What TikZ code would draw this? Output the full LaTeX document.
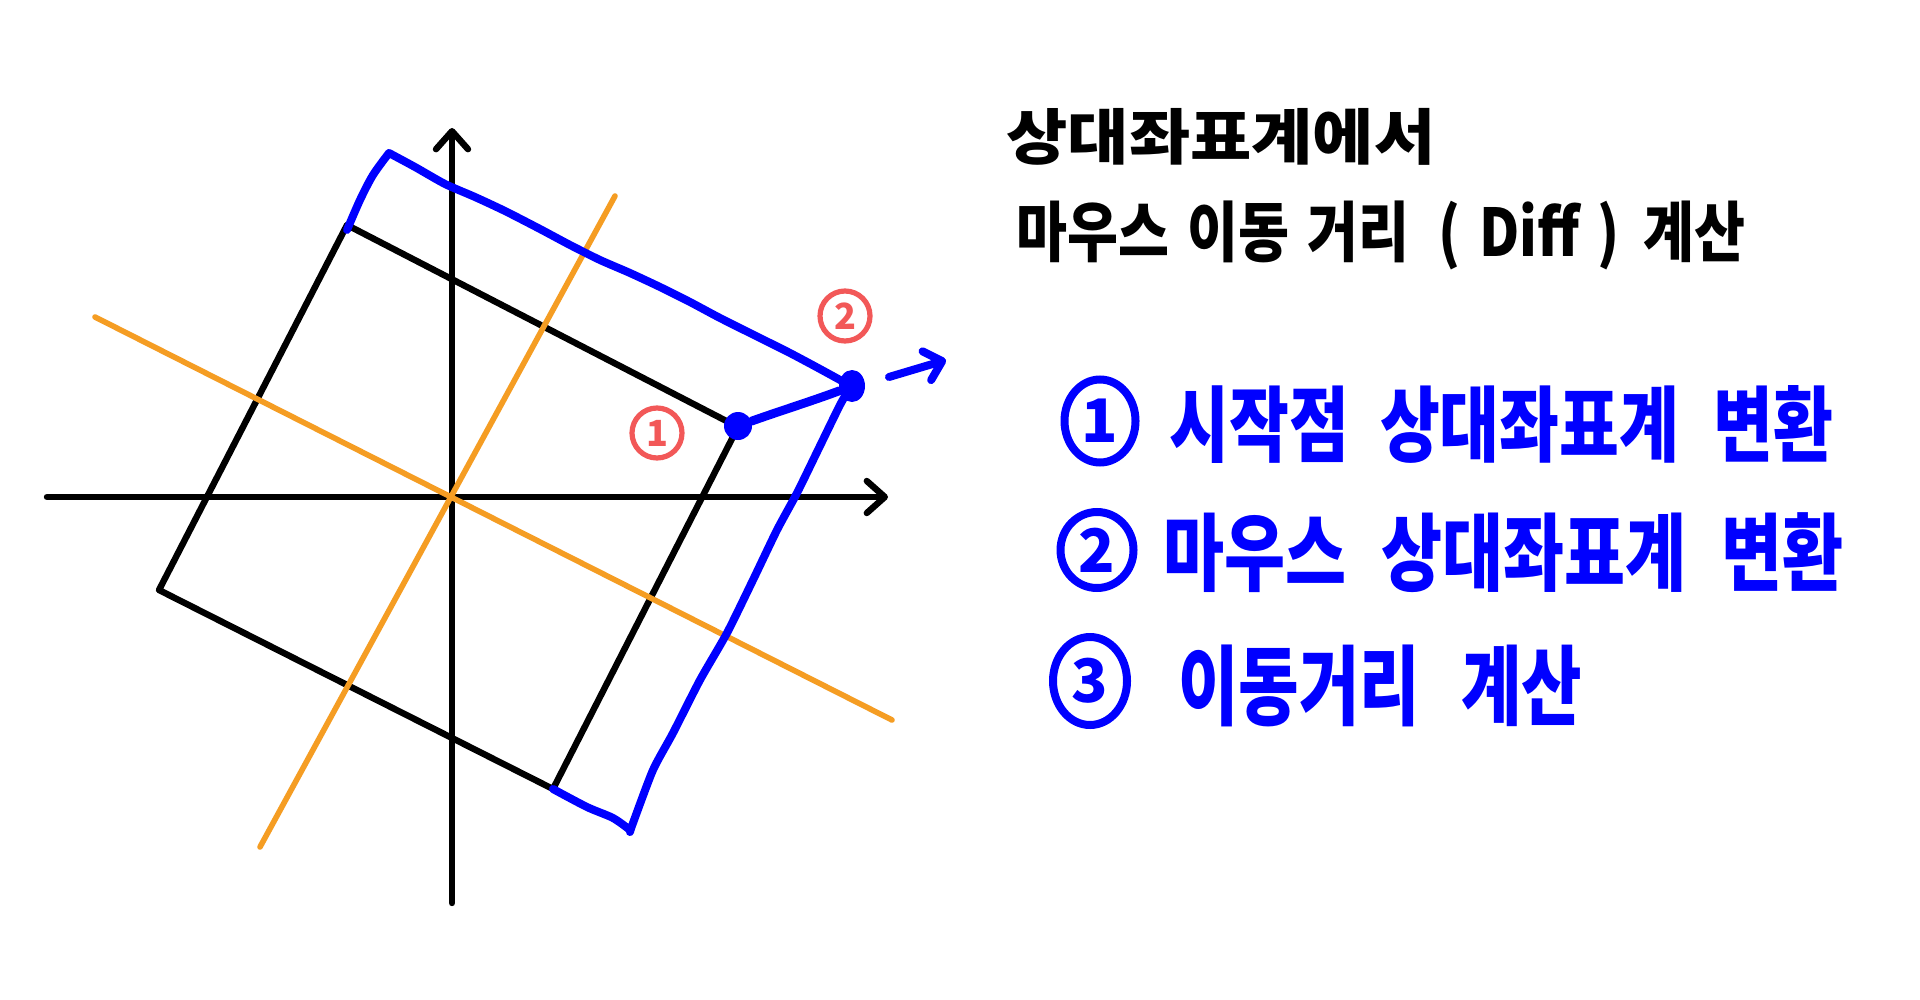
\documentclass[tikz,border=0pt]{standalone}
\usepackage{fontspec}
\newfontfamily\kr{Noto Sans CJK KR}
\usetikzlibrary{arrows.meta,shapes.geometric}
\definecolor{penblue}{RGB}{0,0,255}
\definecolor{penorange}{RGB}{245,157,35}
\definecolor{penred}{RGB}{242,88,88}
\begin{document}
\begin{tikzpicture}[x=0.5pt,y=-0.5pt,
  blk/.style={draw=black,line width=3.2pt,line cap=round,line join=round},
  org/.style={draw=penorange,line width=2.8pt,line cap=round},
  blu/.style={draw=penblue,line width=4pt,line cap=round,line join=round},
  barb/.style={-{Straight Barb[length=9pt,width=16pt,line cap=round,line join=round]}},
  dot/.style={ellipse,fill=penblue,inner sep=0pt},
  rcirc/.style={circle,draw=penred,line width=2.6pt,text=penred,minimum size=25pt,inner sep=0pt,
    font=\kr\bfseries\fontsize{18}{18}\selectfont},
  bcirc/.style={ellipse,draw=penblue,line width=4pt,text=penblue,inner sep=0pt,
    font=\kr\bfseries\fontsize{30}{30}\selectfont},
  txt/.style={anchor=west,inner sep=0pt}]
\useasboundingbox (0,0) rectangle (1920,1000);
\fill[white] (0,0) rectangle (1920,1000);

% ---- axes ----
\coordinate (xa0) at (47,497);
\coordinate (xa1) at (888,497);
\coordinate (ya0) at (452,903);
\coordinate (ya1) at (452,128);
\draw[blk,barb] (xa0) -- (xa1);
\draw[blk,barb] (ya0) -- (ya1);

% ---- black rotated rectangle ----
\coordinate (TL) at (347,225);
\coordinate (TR) at (738,427);
\coordinate (BR) at (553,789);
\coordinate (BL) at (159,590);
\draw[blk] (TL) -- (TR) -- (BR) -- (BL) -- cycle;

% ---- orange rotated axes ----
\coordinate (o1a) at (95,317);
\coordinate (o1b) at (892,720);
\coordinate (o2a) at (615,196);
\coordinate (o2b) at (260,847);
\draw[org] (o1a) -- (o1b);
\draw[org] (o2a) -- (o2b);

% ---- blue (moved) rectangle outline ----
\draw[blu] plot[smooth,tension=0.5] coordinates {(553,789) (587,807) (613,818) (630,830)}
  -- plot[smooth,tension=0.4] coordinates {(630,832) (633,823) (653,770) (673,733) (700,680) (727,633) (753,580) (777,530) (797,493) (818,450) (840,405) (851,386)}
  -- plot[smooth,tension=0.4] coordinates {(851,386) (820,369) (790,353) (760,338) (720,318) (690,302) (660,287) (630,273) (600,260) (570,245) (540,229) (505,211) (475,197) (445,184) (415,167) (389,153)}
  -- plot[smooth,tension=0.5] coordinates {(389,153) (373,175) (360,200) (347,230)};

% ---- points and movement ----
\node[dot,minimum width=14pt,minimum height=14pt] (p1) at (738,426) {};
\node[dot,minimum width=13pt,minimum height=16pt] (p2) at (852,386) {};
\draw[blu,line width=4.4pt] (p1) .. controls (777,412) and (815,400) .. (p2);
\coordinate (a0) at (889,377);
\coordinate (a1) at (946,360);
\draw[blu,-{Straight Barb[length=8pt,width=15pt,line cap=round,line join=round]}] (a0) -- (a1);

% ---- red markers ----
\node[rcirc] (r1) at (657,433) {1};
\node[rcirc] (r2) at (845,316) {2};

% ---- title ----
\node[txt] (title1) at (1006,137) {\resizebox*{214.5pt}{28.5pt}{\kr\bfseries 상대좌표계에서}};
\node[txt] (title2) at (1016,232) {\resizebox*{364.5pt}{31pt}{\kr\bfseries 마우스\hspace{0.1em} 이동\hspace{0.1em} 거리\hspace{0.3em} \smash{(}\hspace{0.1em} Diff\hspace{0.1em} \smash{)}\hspace{0.2em} 계산}};

% ---- steps ----
\node[bcirc,minimum width=35.5pt,minimum height=41.5pt] (n1) at (1100,421) {1};
\node[bcirc,minimum width=36.5pt,minimum height=38pt] (n2) at (1097,550) {2};
\node[bcirc,minimum width=37pt,minimum height=44pt] (n3) at (1090,681) {3};
\node[txt,text=penblue] (s1) at (1169,425) {\resizebox*{332pt}{39pt}{\kr\bfseries 시작점\hspace{0.25em} 상대좌표계\hspace{0.3em} 변환}};
\node[txt,text=penblue] (s2) at (1163,553) {\resizebox*{340pt}{40pt}{\kr\bfseries 마우스\hspace{0.3em} 상대좌표계\hspace{0.3em} 변환}};
\node[txt,text=penblue] (s3) at (1178,686) {\resizebox*{202pt}{41pt}{\kr\bfseries 이동거리\hspace{0.4em} 계산}};
\end{tikzpicture}
\end{document}
